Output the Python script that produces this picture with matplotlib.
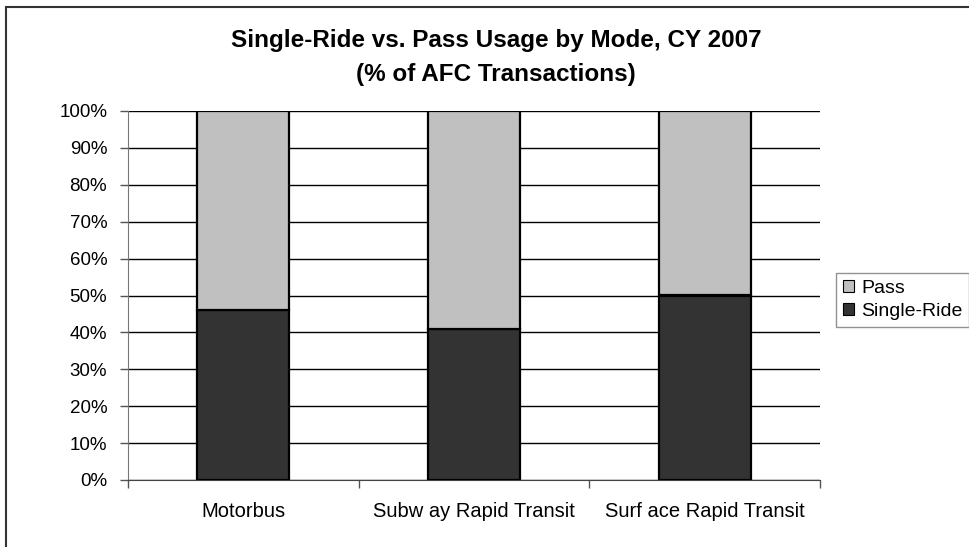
import matplotlib
matplotlib.use("Agg")
import matplotlib.pyplot as plt
from matplotlib.patches import Rectangle
from matplotlib.ticker import MultipleLocator, PercentFormatter

# ── Data ──────────────────────────────────────────────────────────────────────
modes = ["Motorbus", "Subw ay Rapid Transit", "Surf ace Rapid Transit"]
single_ride = [46, 41, 50]
pass_share = [54, 59, 50]

plt.rcParams["font.family"] = ["Liberation Sans", "DejaVu Sans"]

fig = plt.figure(figsize=(9.7, 5.47), dpi=100)
fig.patch.set_facecolor("white")
ax = fig.add_axes([128 / 970, 1 - 480 / 547, 692 / 970, 369 / 547])

x = range(len(modes))
ax.bar(x, single_ride, width=0.4, color="#333333", edgecolor="black",
       linewidth=1.6, label="Single-Ride", zorder=3)
ax.bar(x, pass_share, width=0.4, bottom=single_ride, color="#C0C0C0",
       edgecolor="black", linewidth=1.6, label="Pass", zorder=3)

ax.set_xlim(-0.5, len(modes) - 0.5)
ax.set_ylim(0, 100)
ax.yaxis.set_major_locator(MultipleLocator(10))
ax.yaxis.set_major_formatter(PercentFormatter(decimals=0))
ax.yaxis.grid(True, color="black", linewidth=1.0, zorder=0)
ax.set_axisbelow(True)

ax.set_xticks(list(x))
ax.set_xticklabels(modes, fontsize=14.5)
ax.set_xticks([i + 0.5 for i in range(-1, len(modes))], minor=True)
ax.tick_params(axis="x", which="major", length=0, pad=16)
ax.tick_params(axis="x", which="minor", length=6, width=1.0, color="#555555")
ax.tick_params(axis="y", length=6, width=1.0, color="#555555", labelsize=13.5, pad=9)

for side in ("top", "right"):
    ax.spines[side].set_visible(False)
ax.spines["left"].set_color("#777777")
ax.spines["bottom"].set_color("#444444")

# ── Title ─────────────────────────────────────────────────────────────────────
fig.text(496 / 970, 1 - 40 / 547, "Single-Ride vs. Pass Usage by Mode, CY 2007",
         ha="center", va="center", fontsize=17.5, fontweight="bold")
fig.text(496 / 970, 1 - 74 / 547, "(% of AFC Transactions)",
         ha="center", va="center", fontsize=17.5, fontweight="bold")

# ── Legend ────────────────────────────────────────────────────────────────────
h, l = ax.get_legend_handles_labels()
leg = fig.legend(h[::-1], l[::-1], loc="upper left",
                 bbox_to_anchor=(836 / 970, 1 - 273 / 547), fontsize=14,
                 frameon=True, fancybox=False, edgecolor="#777777",
                 handlelength=0.6, handleheight=0.6, handletextpad=0.35,
                 borderpad=0.35, labelspacing=0.3, borderaxespad=0)
leg.get_frame().set_linewidth(1.0)
for p in leg.get_patches():
    p.set_linewidth(0.8)

# ── Outer chart border (only top and left visible) ───────────────────────────
fig.patches.append(Rectangle((6 / 970, -0.2), 1.2, 1.2 - 7 / 547,
                             transform=fig.transFigure, fill=False,
                             edgecolor="#333333", linewidth=1.5))

fig.savefig("out.png", dpi=100, facecolor="white")
